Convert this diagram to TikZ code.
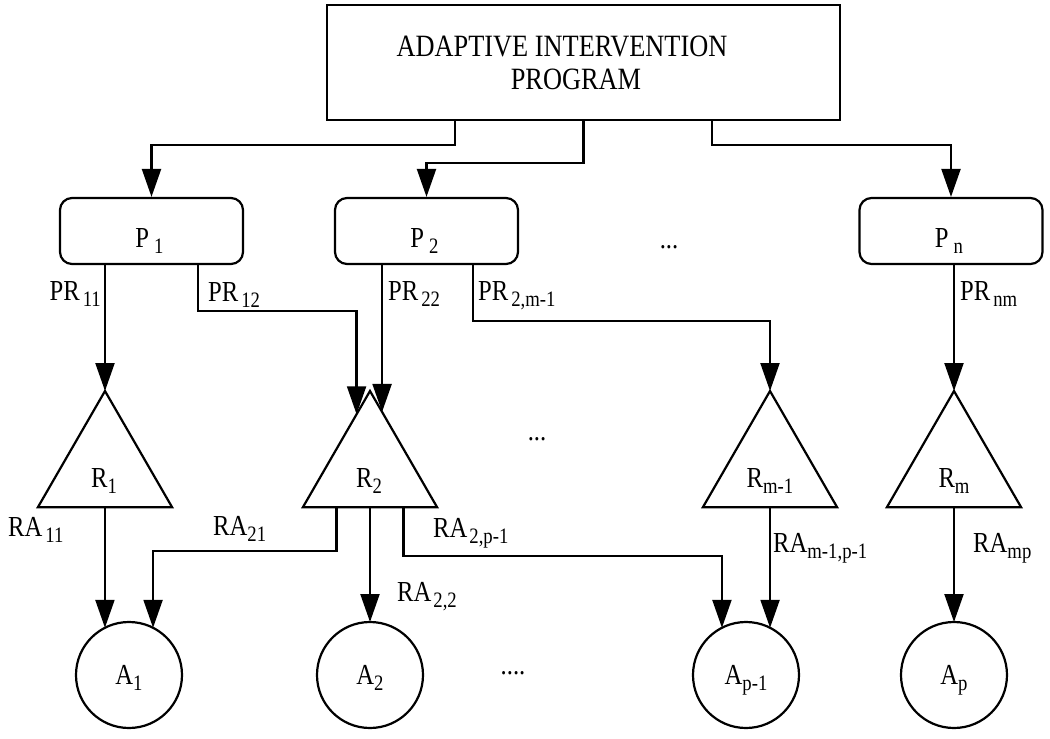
\documentclass[tikz,border=0pt]{standalone}
\usepackage{fontspec}
\setmainfont{Liberation Serif}[FakeStretch=0.85]
\usetikzlibrary{arrows.meta,shapes.geometric,calc}
\newcommand\sbs[1]{\raisebox{-6pt}{\fontsize{22}{22}\selectfont #1}}
\begin{document}
\begin{tikzpicture}[x=1pt,y=-1pt,
  every node/.style={font=\fontsize{29}{31}\selectfont},
  arr/.style={line width=2.2pt,-{Triangle[length=28pt,width=19pt]}},
  topbox/.style={draw,line width=2.2pt,minimum width=513pt,minimum height=115pt,align=center,font=\fontsize{31}{33}\selectfont,inner sep=0pt},
  pbox/.style={draw,line width=2.2pt,rounded corners=12pt,minimum width=183pt,minimum height=66pt,text height=32pt,text depth=0pt,inner sep=0pt},
  tri/.style={draw,line width=2.2pt,regular polygon,regular polygon sides=3,minimum size=155pt,inner sep=0pt,outer sep=0pt},
  anode/.style={draw,line width=2.2pt,circle,minimum size=106pt,inner sep=0pt,outer sep=0pt,text height=18pt,text depth=0pt},
  lbl/.style={inner sep=0pt}]
\useasboundingbox (0,0) rectangle (1050,739);

% nodes
\node[topbox] (T) at (583.5,62.5) {ADAPTIVE INTERVENTION\rule{43pt}{0pt}\\PROGRAM\rule{15pt}{0pt}};
\node[pbox] (P1) at (151.5,231) {P\kern5pt\sbs{1}\kern4pt};
\node[pbox] (P2) at (426.5,231) {P\kern5pt\sbs{2}\kern4pt};
\node[pbox] (Pn) at (951,231) {P\kern5pt\sbs{n}\kern4pt};

\node[tri] (R1) at (105,468.5) {};
\node[tri] (R2) at (370,468.5) {};
\node[tri] (Rm1) at (770,468.5) {};
\node[tri] (Rm) at (954,468.5) {};
\node[lbl,anchor=base] (R1t) at (104,487) {R\sbs{1}};
\node[lbl,anchor=base] (R2t) at (369,487) {R\sbs{2}};
\node[lbl,anchor=base] (Rm1t) at (770,487) {R\sbs{m-1}};
\node[lbl,anchor=base] (Rmt) at (954,487) {R\sbs{m}};

\node[anode] (A1) at (129,675) {A\sbs{1}};
\node[anode] (A2) at (370,675) {A\sbs{2}};
\node[anode] (Ap1) at (746,675) {A\sbs{p-1}};
\node[anode] (Ap) at (954,675) {A\sbs{p}};

% dots
\node[lbl] (d1) at (669,247) {...};
\node[lbl] (d2) at (537,439) {...};
\node[lbl] (d3) at (513,673) {....};

% helper coordinates
\coordinate (t1) at ($(T.south west)!0.25!(T.south east)$);
\coordinate (t3) at ($(T.south west)!0.75!(T.south east)$);
\coordinate (p12) at ($(P1.south west)!0.75!(P1.south east)$);
\coordinate (p2m) at ($(P2.south west)!0.75!(P2.south east)$);
\coordinate (r2l) at ($(R2.corner 1)!0.2!(R2.corner 2)$);
\coordinate (r2r) at ($(R2.corner 1)!0.18!(R2.corner 3)$);
\coordinate (r1b) at ($(R1.corner 2)!0.5!(R1.corner 3)$);
\coordinate (r2a) at ($(R2.corner 2)!0.25!(R2.corner 3)$);
\coordinate (r2b) at ($(R2.corner 2)!0.5!(R2.corner 3)$);
\coordinate (r2c) at ($(R2.corner 2)!0.75!(R2.corner 3)$);
\coordinate (rm1b) at ($(Rm1.corner 2)!0.5!(Rm1.corner 3)$);
\coordinate (rmb) at ($(Rm.corner 2)!0.5!(Rm.corner 3)$);

% top connectors
\draw[arr] (t1) -- ++(0,24) -| (P1.north);
\draw[arr] (T.south) -- ++(0,42) -| (P2.north);
\draw[arr] (t3) -- ++(0,24) -| (Pn.north);

% P -> R
\draw[arr] (P1.south -| R1.corner 1) -- (R1.corner 1);
\draw[arr] (p12) -- ++(0,46) -| (r2l);
\draw[arr] (P2.south -| r2r) -- (r2r);
\draw[arr] (p2m) -- ++(0,56) -| (Rm1.corner 1);
\draw[arr] (Pn.south -| Rm.corner 1) -- (Rm.corner 1);

% R -> A
\draw[arr] (r1b -| A1.117) -- (A1.117);
\draw[arr] (r2a) -- ++(0,44) -| (A1.63);
\draw[arr] (r2b) -- (A2.north);
\draw[arr] (r2c) -- ++(0,49) -| (Ap1.117);
\draw[arr] (rm1b -| Ap1.63) -- (Ap1.63);
\draw[arr] (rmb) -- (Ap.north);

% labels
\node[lbl,anchor=base east] (lPR11) at (101,300) {PR\kern3pt\sbs{11}};
\node[lbl,anchor=base west] (lPR12) at (208,301) {PR\kern3pt\sbs{12}};
\node[lbl,anchor=base west] (lPR22) at (388,300) {PR\kern3pt\sbs{22}};
\node[lbl,anchor=base west] (lPR2m) at (478,300) {PR\kern3pt\sbs{2,m-1}};
\node[lbl,anchor=base west] (lPRnm) at (960,300) {PR\kern3pt\sbs{nm}};
\node[lbl,anchor=base west] (lRA11) at (8,536) {RA\kern3pt\sbs{11}};
\node[lbl,anchor=base west] (lRA21) at (213,535) {RA\sbs{21}};
\node[lbl,anchor=base west] (lRA2p) at (433,537) {RA\kern2pt\sbs{2,p-1}};
\node[lbl,anchor=base west] (lRA22) at (397,601) {RA\kern2pt\sbs{2,2}};
\node[lbl,anchor=base west] (lRAm1) at (773,552) {RA\sbs{m-1,p-1}};
\node[lbl,anchor=base west] (lRAmp) at (973,552) {RA\sbs{mp}};
\end{tikzpicture}
\end{document}
